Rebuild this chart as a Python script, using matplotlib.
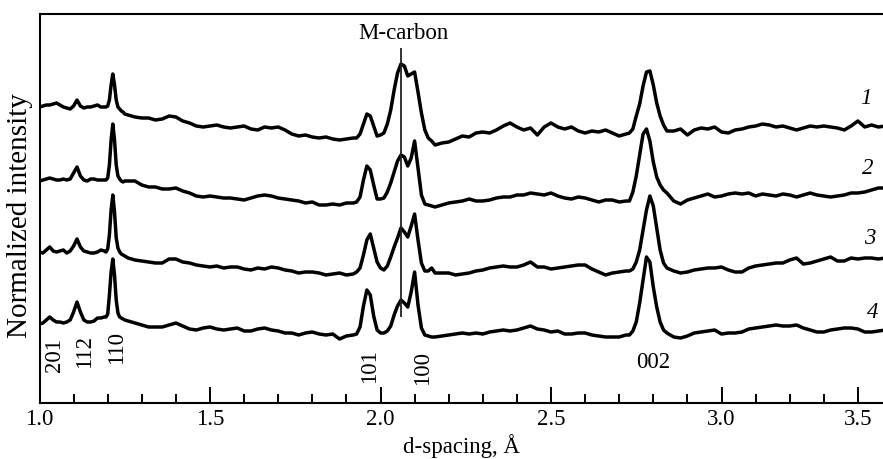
import matplotlib

matplotlib.use("Agg")
import matplotlib.pyplot as plt
import numpy as np

plt.rcParams["font.family"] = "serif"
plt.rcParams["font.serif"] = ["Liberation Serif", "DejaVu Serif"]

# d-spacing sampling grid (denser around the reflections)
D_GRID = np.concatenate([
    np.linspace(1.00, 1.18, 19),
    np.linspace(1.19, 1.25, 13),
    np.linspace(1.26, 1.92, 34),
    np.linspace(1.93, 2.16, 24),
    np.linspace(2.18, 2.72, 28),
    np.linspace(2.73, 2.84, 12),
    np.linspace(2.86, 3.48, 32),
])

# intensities, relative to each trace's own offset
TRACE_1 = [
    26, 27, 28, 28, 29, 30, 28, 26, 25, 24, 27, 33, 27, 25, 26, 26, 27, 28, 26,
    26, 26, 27, 33, 48, 59, 48, 33, 26, 24, 22, 21, 19,
    18, 16, 15, 15, 13, 14, 17, 16, 12, 10, 7, 6, 7, 8, 6, 5, 6, 7, 4, 3,
    6, 5, 6, 3, -1, -3, -2, -4, -5, -4, -6, -7, -6, -5,
    -5, -1, 9, 19, 17, 7, -3, -2, 0, 9, 23, 43, 60, 69, 67, 57, 59, 61, 41, 20, 3, -5, -8, -12,
    -10, -9, -6, -3, -4, 0, 1, 0, 3, 7, 10, 6, 3, 5, -2, 6, 10, 6, 4, 6, 2, 0, 2, 1, 3, 0, -3, -1,
    0, 4, 17, 29, 47, 61, 62, 48, 30, 17, 8, 2,
    2, 4, -2, 3, 5, 4, 6, 1, 0, 3, 4, 6, 7, 9, 8, 6, 7, 5, 3, 5, 7, 6, 7, 6, 5, 3, 7, 12, 6, 8, 6, 7,
]
TRACE_2 = [
    22, 23, 24, 25, 24, 23, 23, 24, 23, 24, 30, 36, 27, 23, 22, 24, 24, 23, 23,
    23, 23, 25, 38, 63, 79, 63, 38, 27, 24, 22, 21, 22,
    22, 22, 18, 16, 16, 14, 14, 15, 12, 10, 7, 6, 7, 6, 5, 5, 4, 3, 5, 7,
    8, 7, 5, 4, 3, 2, 0, 1, -2, -2, -1, -2, 0, 0,
    1, 6, 23, 37, 33, 18, 4, 4, 5, 11, 20, 31, 42, 48, 46, 37, 45, 62, 35, 8, -1, -2, -3, -4,
    -2, 0, 1, 2, 4, 2, 2, 3, 5, 6, 6, 8, 8, 10, 9, 8, 10, 7, 5, 4, 6, 5, 3, 1, 3, 3, 1, 2,
    2, 11, 27, 48, 69, 74, 62, 41, 26, 18, 13, 10,
    2, -1, 3, 5, 7, 9, 6, 7, 9, 10, 9, 10, 7, 9, 8, 7, 9, 8, 6, 8, 10, 8, 7, 6, 7, 8, 10, 10, 11, 13, 15, 15,
]
TRACE_3 = [
    18, 17, 20, 23, 19, 18, 19, 20, 17, 19, 24, 31, 23, 19, 18, 17, 17, 18, 20,
    19, 18, 21, 35, 60, 75, 58, 32, 22, 18, 16, 15, 14,
    12, 10, 9, 8, 7, 7, 11, 11, 8, 7, 5, 4, 3, 4, 2, 3, 3, 1, 0, 2,
    1, 3, 2, 0, -1, -3, -2, -2, -3, -5, -4, -3, -5, -4,
    -2, 2, 15, 30, 36, 22, 8, 2, 0, 4, 13, 23, 32, 42, 38, 33, 44, 56, 30, 7, -1, -1, 2, -3,
    -3, -3, -5, -4, -3, -1, 0, 2, 3, 4, 3, 3, 5, 8, 3, 3, 1, 2, 3, 4, 5, 5, 1, -2, -5, -3, -2, -1,
    -1, 1, 8, 20, 40, 60, 74, 64, 42, 20, 7, 2,
    -1, -3, -2, 0, 1, 2, 2, 3, 0, -2, -2, 2, 4, 5, 6, 7, 7, 10, 12, 6, 7, 9, 11, 13, 9, 9, 12, 11, 12, 12, 11, 12,
]
TRACE_4 = [
    11, 12, 15, 18, 15, 13, 13, 12, 13, 15, 23, 33, 23, 15, 13, 13, 14, 17, 17,
    18, 18, 21, 40, 63, 76, 60, 35, 22, 18, 17, 16, 15,
    14, 12, 10, 8, 8, 8, 10, 12, 9, 6, 5, 7, 8, 6, 5, 6, 7, 4, 4, 6,
    7, 5, 4, 2, 2, 0, 2, 3, 1, 0, 1, -4, -1, 0,
    1, 8, 29, 45, 40, 19, 5, 2, 2, 4, 9, 20, 29, 35, 32, 28, 43, 63, 30, 7, 0, -1, -2, -2,
    -1, 0, 1, 2, 1, 2, 1, 3, 4, 5, 4, 5, 7, 9, 6, 5, 3, 4, 1, 1, 2, 2, 0, -1, -2, -2, -2, 0,
    0, 4, 13, 32, 55, 78, 73, 48, 28, 13, 5, 2,
    -2, -3, -1, 2, 3, 4, 5, 1, 2, 2, 3, 6, 7, 8, 9, 10, 9, 9, 10, 7, 5, 3, 3, 5, 6, 7, 7, 6, 3, 3, 4, 5,
]
TRACES = [TRACE_1, TRACE_2, TRACE_3, TRACE_4]
OFFSETS = [270, 200, 133, 68]
TRACE_NAMES = ["1", "2", "3", "4"]

PEAK_NAMES = ["201", "112", "110", "101", "100", "002"]
M_CARBON_D = 2.059

XTICKS_MAJOR = [1.0, 1.5, 2.0, 2.5, 3.0, 3.4]
XTICK_LABELS = ["1.0", "1.5", "2.0", "2.5", "3.0", "3.5"]
XTICKS_MINOR = [round(1.0 + 0.1 * i, 1) for i in range(1, 24) if i % 5 != 0]


def plot_patterns():
    fig = plt.figure(figsize=(8.83, 4.59), dpi=100)
    ax = fig.add_axes([39.5 / 883, 56 / 459, 1 - 39.5 / 883, 389 / 459])

    for vals, off in zip(TRACES, OFFSETS):
        ax.plot(D_GRID, np.array(vals) + off, color="black", linewidth=2.5,
                solid_joinstyle="round", solid_capstyle="round")

    # M-carbon marker
    ax.vlines(M_CARBON_D, 86, 355, color="#222222", linewidth=1.3)
    ax.text(2.066, 370, "M-carbon", ha="center", va="center", fontsize=16.5)

    # trace numbers
    for name, (x, y) in zip(TRACE_NAMES, [(3.425, 305), (3.430, 235), (3.436, 165), (3.443, 91)]):
        ax.text(x, y, name, ha="center", va="center", fontsize=16.5, style="italic")

    # reflection indices
    peak_pos = [(1.045, 48), (1.133, 51), (1.227, 55), (1.969, 37), (2.123, 35), (2.799, 40)]
    for name, (x, y) in zip(PEAK_NAMES, peak_pos):
        rot = 0 if name == "002" else 90
        ax.text(x, y, name, ha="center", va="center", fontsize=16.5, rotation=rot)

    ax.set_xlim(1.0, 3.4736)
    ax.set_ylim(0, 389)
    ax.set_yticks([])
    ax.set_xticks(XTICKS_MAJOR, XTICK_LABELS)
    ax.set_xticks(XTICKS_MINOR, minor=True)
    ax.tick_params(axis="x", which="major", direction="in", length=11.5, width=1.4,
                   labelsize=16.5, pad=4)
    ax.tick_params(axis="x", which="minor", direction="in", length=6.5, width=1.4)
    ax.spines["right"].set_visible(False)
    for side in ["left", "top", "bottom"]:
        ax.spines[side].set_linewidth(1.5)

    ax.set_xlabel("d-spacing, Å", fontsize=16.5, labelpad=3)
    fig.text(20 / 883, 1 - 216 / 459, "Normalized intensity", rotation=90,
             ha="center", va="center", fontsize=21)

    fig.savefig("out.png", dpi=100)
    plt.close(fig)


def main():
    plot_patterns()


if __name__ == "__main__":
    main()
